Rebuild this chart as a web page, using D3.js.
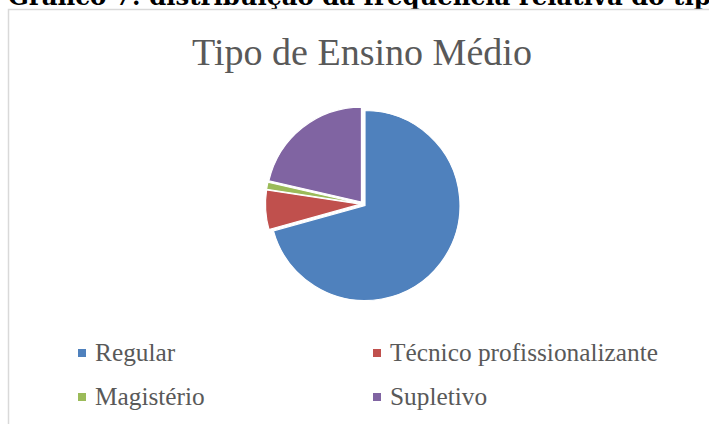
<!DOCTYPE html>
<html>
<head>
<meta charset="utf-8">
<script src="https://cdn.jsdelivr.net/npm/d3@7"></script>
<style>
  body { margin: 0; background: #fff; }
  svg { display: block; }
</style>
</head>
<body>
<div id="chart"></div>
<script>
  // dados do gráfico
  var categorias = ['Regular', 'Técnico profissionalizante', 'Magistério', 'Supletivo'];
  var valores = [70.7, 6.7, 1.2, 21.4];
  var cores = ['#4F81BD', '#C0504D', '#9BBB59', '#8064A2'];
  var titulo = 'Tipo de Ensino Médio';
  var legenda = 'Gráfico 7: distribuição da frequência relativa do tipo de Ensino Médio';

  var width = 709, height = 424;
  var serif = "'Liberation Serif', 'DejaVu Serif', serif";

  var svg = d3.select('#chart')
    .append('svg')
    .attr('width', width)
    .attr('height', height);

  // legenda do documento, cortada em cima
  var cap = svg.append('text')
    .attr('x', 8)
    .attr('y', 5)
    .attr('font-family', "'DejaVu Serif', serif")
    .attr('font-weight', 'bold')
    .attr('font-size', 22)
    .attr('fill', '#000')
    .text(legenda);
  // "Gráfico 7: ... do tip" ocupa ~703px no original
  var sub = cap.node().getSubStringLength(0, 53);
  cap.attr('font-size', 22 * 703 / sub);

  // moldura da área do gráfico
  svg.append('rect')
    .attr('x', 8.5)
    .attr('y', 9.5)
    .attr('width', 720)
    .attr('height', 430)
    .attr('fill', '#fff')
    .attr('stroke', '#d9d9d9')
    .attr('stroke-width', 1.5);

  // ajusta o tamanho da fonte para uma largura desejada
  function fitText(sel, targetWidth, size) {
    sel.attr('font-size', size);
    var w = sel.node().getComputedTextLength();
    sel.attr('font-size', size * targetWidth / w);
  }

  var title = svg.append('text')
    .attr('x', 362)
    .attr('y', 65)
    .attr('text-anchor', 'middle')
    .attr('font-family', serif)
    .attr('fill', '#595959')
    .text(titulo);
  fitText(title, 340, 34);

  // pizza
  var cx = 363, cy = 204, r = 95, explode = 2.5;
  var pie = d3.pie().sort(null).value(function(d){ return d; });
  var arc = d3.arc().innerRadius(0).outerRadius(r);
  var arcs = pie(valores);

  var g = svg.append('g')
    .attr('transform', 'translate(' + cx + ',' + cy + ')');

  g.selectAll('.slice')
    .data(arcs)
    .enter().append('path')
    .attr('class', 'slice')
    .attr('d', arc)
    .attr('transform', function(d){
      var a = (d.startAngle + d.endAngle) / 2;
      return 'translate(' + (Math.sin(a) * explode) + ',' + (-Math.cos(a) * explode) + ')';
    })
    .attr('fill', function(d, i){ return cores[i]; })
    .attr('stroke', '#fff')
    .attr('stroke-width', 1.2);

  // legenda
  var legX = [78, 373], legY = [353, 397];
  var item = svg.selectAll('.leg')
    .data(categorias)
    .enter().append('g')
    .attr('class', 'leg')
    .attr('transform', function(d, i){
      return 'translate(' + legX[i % 2] + ',' + legY[Math.floor(i / 2)] + ')';
    });

  item.append('rect')
    .attr('x', 0)
    .attr('y', -4)
    .attr('width', 8)
    .attr('height', 8)
    .attr('fill', function(d, i){ return cores[i]; });

  item.append('text')
    .attr('x', 17)
    .attr('y', 8)
    .attr('font-family', serif)
    .attr('font-size', 20)
    .attr('fill', '#595959')
    .text(function(d){ return d; });

  // largura do texto "Técnico profissionalizante" ~268px
  var tec = item.filter(function(d, i){ return i === 1; }).select('text');
  var tw = tec.node().getComputedTextLength();
  item.selectAll('text').attr('font-size', 20 * 268 / tw);
</script>
</body>
</html>
